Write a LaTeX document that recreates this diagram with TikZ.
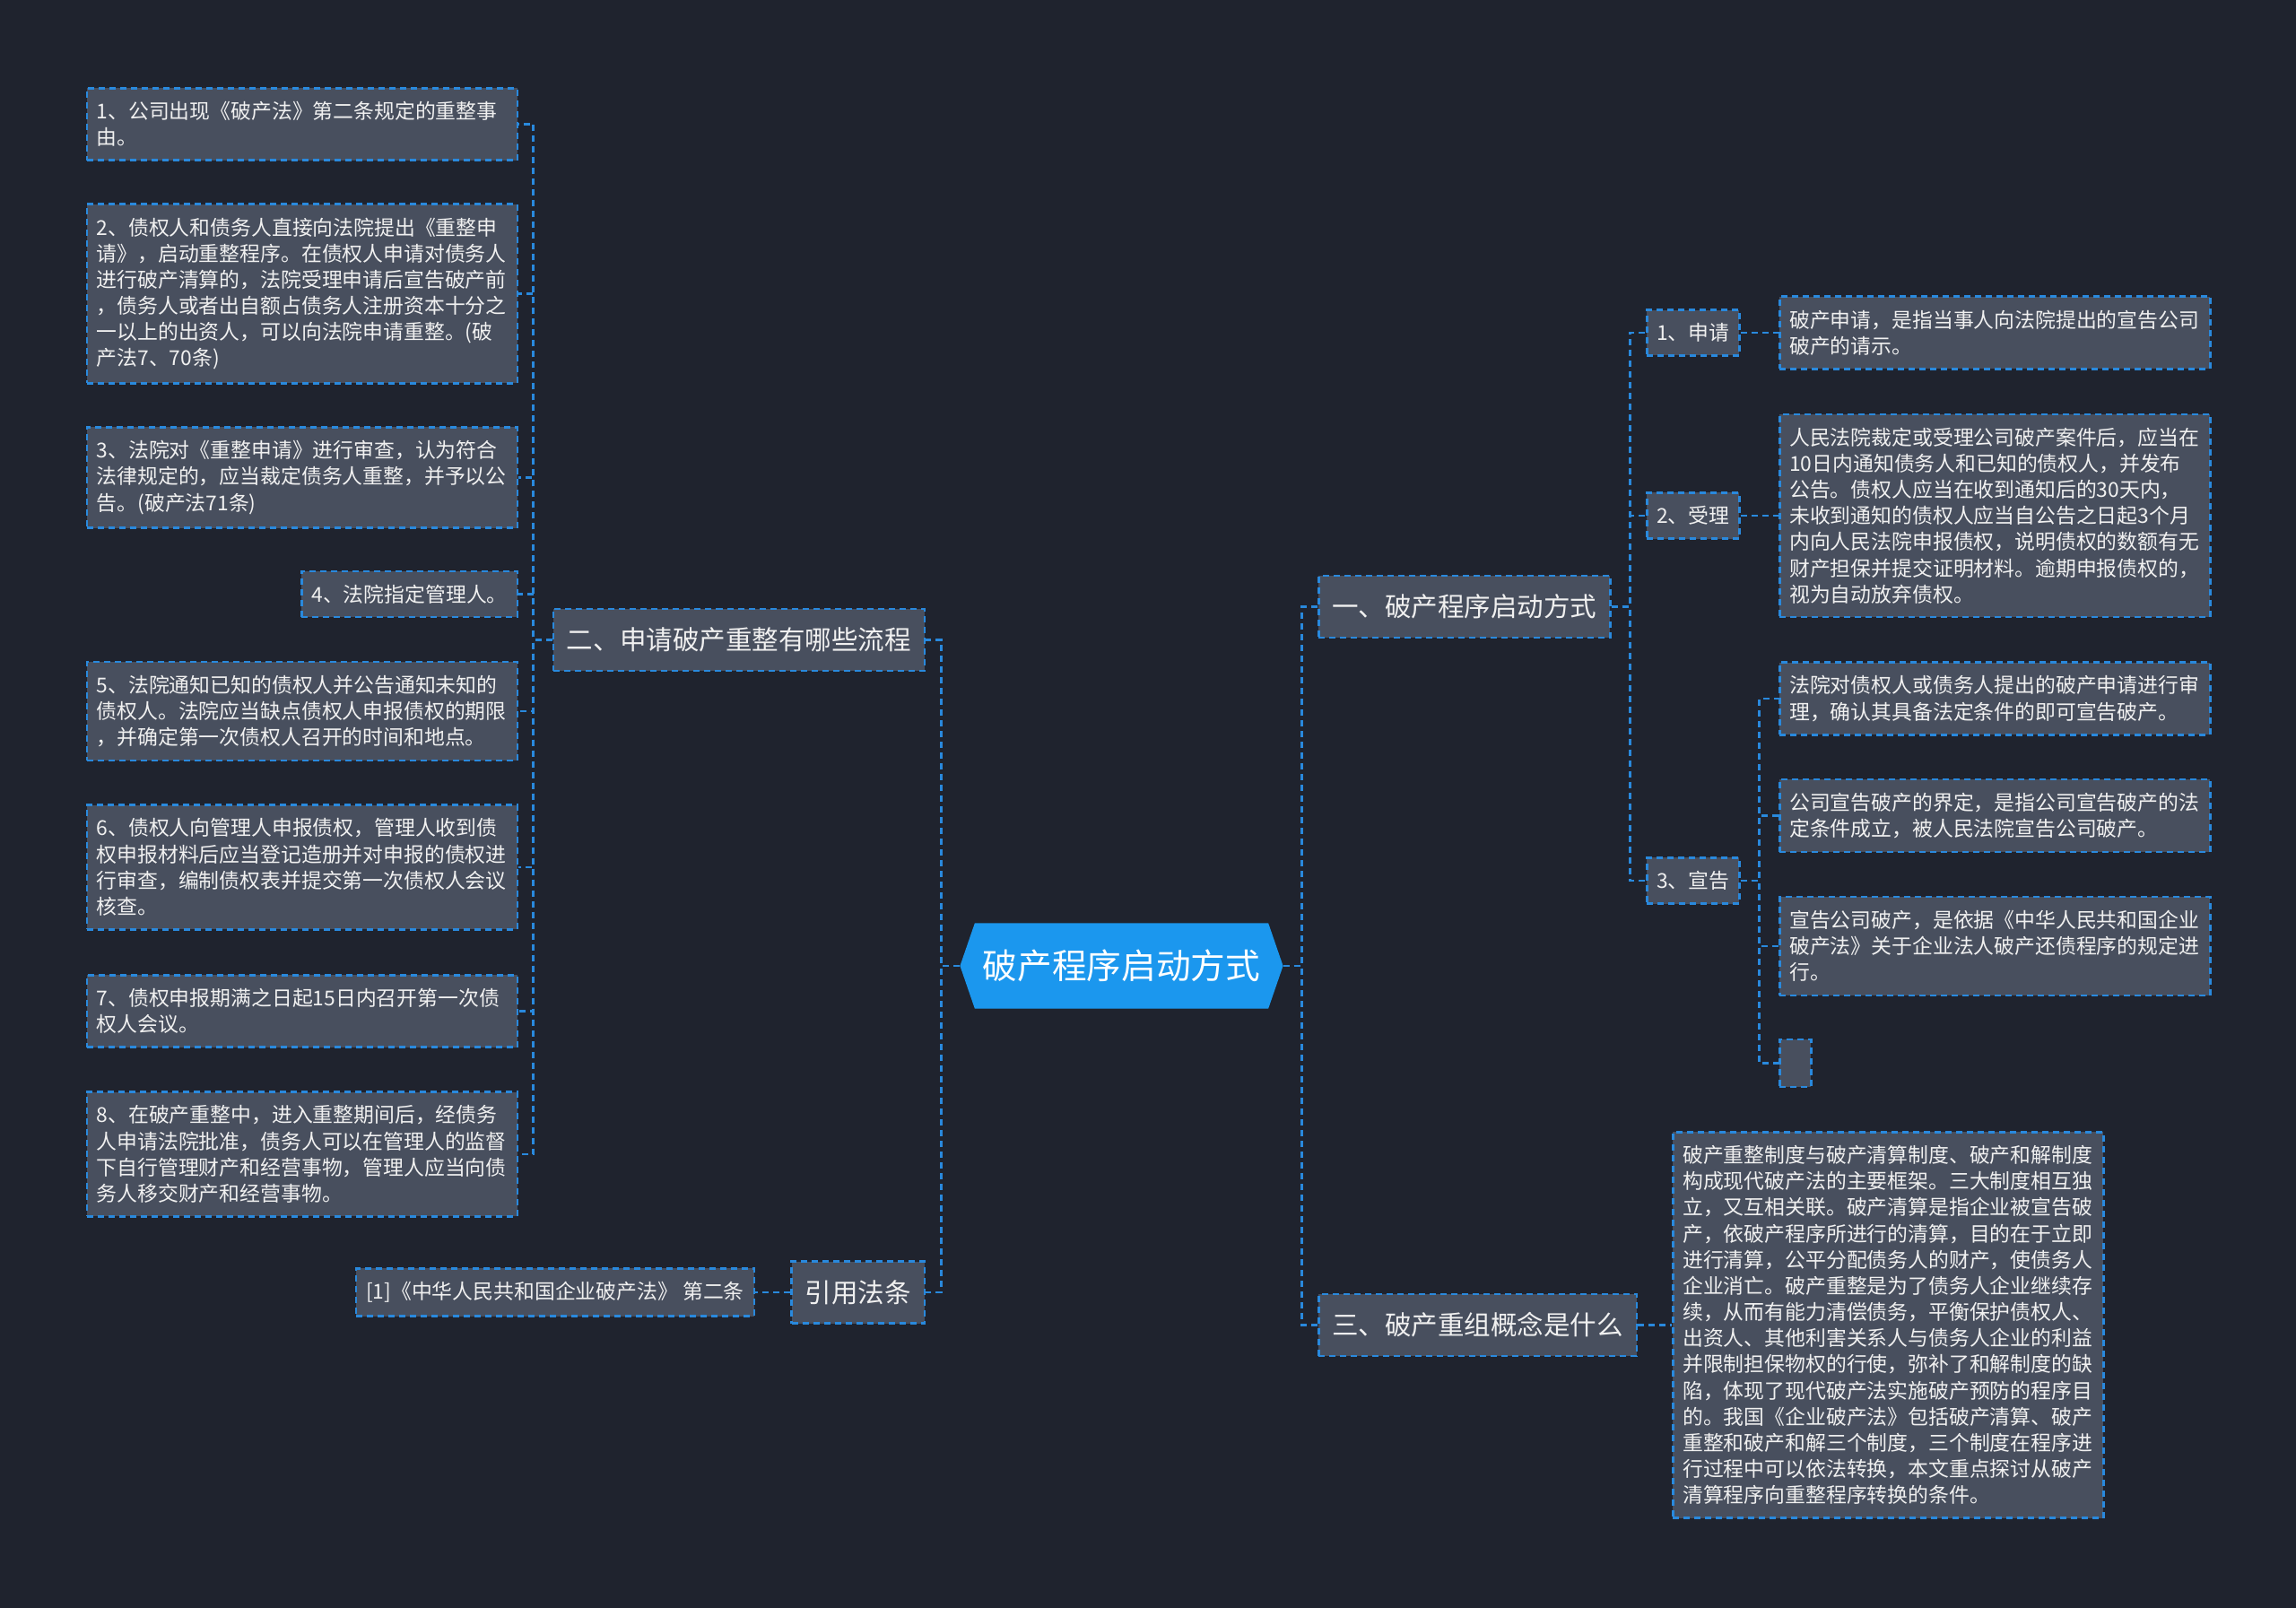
\documentclass[tikz,border=0pt]{standalone}
\usepackage{fontspec}
\setmainfont{Noto Sans CJK SC}
\usetikzlibrary{shapes.symbols}
\definecolor{bgc}{HTML}{1F232E}
\definecolor{boxc}{HTML}{484F5E}
\definecolor{linec}{HTML}{2989DD}
\definecolor{rootc}{HTML}{1B97EE}
\definecolor{txtc}{HTML}{F0F0F0}

\begin{document}
\begin{tikzpicture}[
  x=1cm, y=-1cm,
  every node/.style={font=\fontsize{6.5}{8.3}\selectfont, text=txtc},
  bx/.style={draw=linec, fill=boxc, line width=0.025cm,
             dash pattern=on 0.07cm off 0.05cm,
             inner xsep=0.11cm, inner ysep=0.15cm},
  leaf/.style={bx, text width=4.58cm, align=left},
  tag/.style={bx},
  topic/.style={bx, font=\fontsize{8.4}{10}\selectfont,
                inner xsep=0.15cm, minimum height=0.69cm},
  hub/.style={signal, signal to=east and west, signal pointer angle=142,
              fill=rootc, draw=rootc, text=white,
              font=\fontsize{11}{13}\selectfont, inner xsep=0.085cm,
              minimum height=0.94cm},
  link/.style={draw=linec, line width=0.025cm,
               dash pattern=on 0.07cm off 0.05cm},
]
  % Background
  \fill[bgc] (0,0) rectangle (25.6,17.93);
  \useasboundingbox (0,0) rectangle (25.6,17.93);

  % Centre
  \node[hub] (root) at (12.505, 10.77) {破产程序启动方式};

  % Left: steps of reorganisation
  \node[topic, anchor=east] (flow) at (10.32, 7.135) {二、申请破产重整有哪些流程};
  \node[leaf, anchor=east] (s1) at (5.78, 1.385)
    {1、公司出现《破产法》第二条规定的重整事\\由。};
  \node[leaf, anchor=east] (s2) at (5.78, 3.275)
    {2、债权人和债务人直接向法院提出《重整申\\请》，启动重整程序。在债权人申请对债务人\\进行破产清算的，法院受理申请后宣告破产前\\，债务人或者出自额占债务人注册资本十分之\\一以上的出资人，可以向法院申请重整。(破\\产法7、70条)};
  \node[leaf, anchor=east] (s3) at (5.78, 5.325)
    {3、法院对《重整申请》进行审查，认为符合\\法律规定的，应当裁定债务人重整，并予以公\\告。(破产法71条)};
  \node[tag, anchor=east] (s4) at (5.78, 6.625) {4、法院指定管理人。};
  \node[leaf, anchor=east] (s5) at (5.78, 7.93)
    {5、法院通知已知的债权人并公告通知未知的\\债权人。法院应当缺点债权人申报债权的期限\\，并确定第一次债权人召开的时间和地点。};
  \node[leaf, anchor=east] (s6) at (5.78, 9.67)
    {6、债权人向管理人申报债权，管理人收到债\\权申报材料后应当登记造册并对申报的债权进\\行审查，编制债权表并提交第一次债权人会议\\核查。};
  \node[leaf, anchor=east] (s7) at (5.78, 11.275)
    {7、债权申报期满之日起15日内召开第一次债\\权人会议。};
  \node[leaf, anchor=east] (s8) at (5.78, 12.87)
    {8、在破产重整中，进入重整期间后，经债务\\人申请法院批准，债务人可以在管理人的监督\\下自行管理财产和经营事物，管理人应当向债\\务人移交财产和经营事物。};

  % Left: citation
  \node[topic, anchor=east] (cite) at (10.32, 14.41) {引用法条};
  \node[tag, anchor=east] (law) at (8.42, 14.41) {[1]《中华人民共和国企业破产法》 第二条};

  % Right: ways to start
  \node[topic, anchor=west] (start) at (14.69, 6.765) {一、破产程序启动方式};
  \node[tag, anchor=west] (apply) at (18.35, 3.71) {1、申请};
  \node[leaf, anchor=west] (applyt) at (19.83, 3.71)
    {破产申请，是指当事人向法院提出的宣告公司\\破产的请示。};
  \node[tag, anchor=west] (accept) at (18.35, 5.75) {2、受理};
  \node[leaf, anchor=west] (acceptt) at (19.83, 5.75)
    {人民法院裁定或受理公司破产案件后，应当在\\10日内通知债务人和已知的债权人，并发布\\公告。债权人应当在收到通知后的30天内，\\未收到通知的债权人应当自公告之日起3个月\\内向人民法院申报债权，说明债权的数额有无\\财产担保并提交证明材料。逾期申报债权的，\\视为自动放弃债权。};
  \node[tag, anchor=west] (declare) at (18.35, 9.82) {3、宣告};
  \node[leaf, anchor=west] (d1) at (19.83, 7.79)
    {法院对债权人或债务人提出的破产申请进行审\\理，确认其具备法定条件的即可宣告破产。};
  \node[leaf, anchor=west] (d2) at (19.83, 9.095)
    {公司宣告破产的界定，是指公司宣告破产的法\\定条件成立，被人民法院宣告公司破产。};
  \node[leaf, anchor=west] (d3) at (19.83, 10.55)
    {宣告公司破产，是依据《中华人民共和国企业\\破产法》关于企业法人破产还债程序的规定进\\行。};
  \node[tag, anchor=west, inner sep=0pt, minimum width=0.35cm,
        minimum height=0.53cm] (d4) at (19.83, 11.855) {};

  % Right: concept
  \node[topic, anchor=west] (concept) at (14.69, 14.775) {三、破产重组概念是什么};
  \node[leaf, anchor=west] (conceptt) at (18.64, 14.775)
    {破产重整制度与破产清算制度、破产和解制度\\构成现代破产法的主要框架。三大制度相互独\\立，又互相关联。破产清算是指企业被宣告破\\产，依破产程序所进行的清算，目的在于立即\\进行清算，公平分配债务人的财产，使债务人\\企业消亡。破产重整是为了债务人企业继续存\\续，从而有能力清偿债务，平衡保护债权人、\\出资人、其他利害关系人与债务人企业的利益\\并限制担保物权的行使，弥补了和解制度的缺\\陷，体现了现代破产法实施破产预防的程序目\\的。我国《企业破产法》包括破产清算、破产\\重整和破产和解三个制度，三个制度在程序进\\行过程中可以依法转换，本文重点探讨从破产\\清算程序向重整程序转换的条件。};

  % Connectors
  \foreach \n in {flow, cite}
    \draw[link] (root.west) -- ++(-0.21,0) |- (\n.east);
  \foreach \n in {start, concept}
    \draw[link] (root.east) -- ++(0.21,0) |- (\n.west);
  \foreach \i in {1,...,8}
    \draw[link] (flow.west) -- ++(-0.21,0) |- (s\i.east);
  \draw[link] (cite.west) -- (law.east);
  \foreach \n in {apply, accept, declare}
    \draw[link] (start.east) -- ++(0.21,0) |- (\n.west);
  \draw[link] (apply.east) -- (applyt.west);
  \draw[link] (accept.east) -- (acceptt.west);
  \foreach \i in {1,...,4}
    \draw[link] (declare.east) -- ++(0.21,0) |- (d\i.west);
  \draw[link] (concept.east) -- (conceptt.west);
\end{tikzpicture}
\end{document}
